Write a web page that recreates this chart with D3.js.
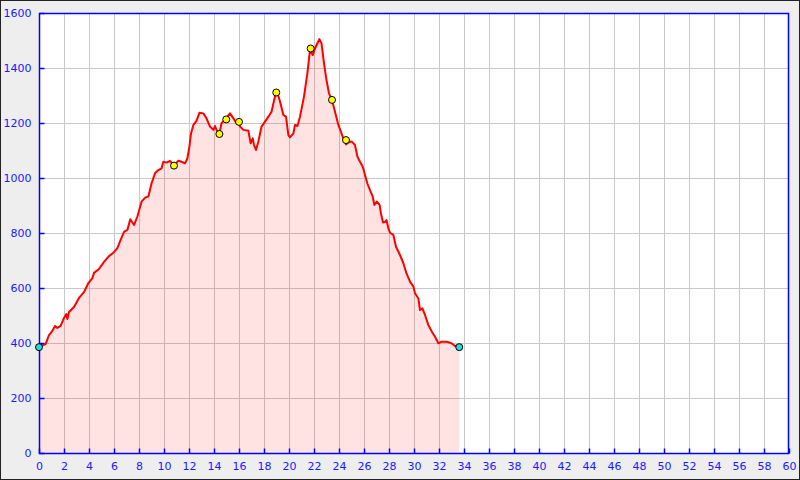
<!DOCTYPE html>
<html><head><meta charset="utf-8">
<script src="https://cdn.jsdelivr.net/npm/d3@7"></script>
<style>body{margin:0;background:#eeeeee}svg{display:block}</style>
</head><body><svg id="c" width="800" height="480"></svg>
<script>
const distKm = [0,0.13,0.53,0.8,1.07,1.28,1.47,1.73,2.0,2.19,2.27,2.4,2.8,3.2,3.6,3.95,4.27,4.4,4.8,5.2,5.6,5.92,6.27,6.53,6.8,7.07,7.3,7.6,7.87,8.2,8.48,8.75,9.0,9.28,9.55,9.8,9.95,10.2,10.48,10.7,10.85,11.15,11.4,11.68,11.87,12.03,12.16,12.35,12.6,12.83,13.15,13.4,13.68,13.95,14.08,14.2,14.43,14.6,14.88,15.28,15.55,15.8,16.0,16.08,16.35,16.75,16.93,17.1,17.2,17.36,17.55,17.8,18.08,18.35,18.6,18.88,19.07,19.28,19.55,19.76,19.95,20.08,20.35,20.48,20.67,20.88,21.2,21.47,21.68,21.9,22.08,22.27,22.43,22.6,22.8,23.0,23.2,23.44,23.68,23.95,24.2,24.4,24.56,24.75,25.0,25.28,25.47,25.68,25.9,26.08,26.27,26.48,26.7,26.83,27.03,27.25,27.35,27.52,27.7,27.8,27.95,28.08,28.35,28.56,28.88,29.15,29.4,29.68,29.95,30.08,30.35,30.48,30.67,30.88,31.15,31.43,31.68,31.95,32.23,32.6,33.0,33.28,33.62];
const elevM = [385,389,396,429,444,462,455,462,491,505,487,513,531,564,585,618,636,655,669,695,716,727,745,775,804,811,850,829,860,914,928,933,980,1017,1029,1035,1059,1056,1062,1051,1048,1063,1059,1053,1071,1114,1162,1193,1208,1237,1235,1217,1187,1175,1189,1175,1162,1199,1213,1235,1217,1199,1204,1187,1175,1172,1126,1144,1120,1102,1133,1187,1205,1223,1241,1296,1310,1278,1229,1223,1156,1148,1162,1193,1189,1223,1296,1381,1465,1447,1471,1490,1505,1490,1417,1356,1308,1284,1241,1193,1162,1138,1122,1129,1133,1120,1078,1059,1041,1011,980,956,932,902,914,902,872,838,841,847,817,801,793,750,720,690,653,623,605,581,562,520,526,502,465,441,423,399,405,405,399,389,384];
const waypointKm = [10.8,14.43,14.98,16.0,18.98,21.73,23.44,24.56];
const waypointElev = [1045,1160,1213,1204,1311,1471,1284,1138];
const endKm = [0,33.62];
const endElev = [385,385];
const xTicks = d3.range(0,61,2);
const yTicks = d3.range(0,1601,200);

const svg = d3.select('#c');
const L=39,R=789,T=13,B=453;
const x = d3.scaleLinear().domain([0,60]).range([L,R]);
const y = d3.scaleLinear().domain([0,1600]).range([B,T]);

svg.append('rect').attr('x',0.5).attr('y',0.5).attr('width',799).attr('height',479).attr('fill','#eeeeee').attr('stroke','#222');
svg.append('rect').attr('x',L).attr('y',T).attr('width',R-L).attr('height',B-T).attr('fill','#fff');

const g = svg.append('g');
g.selectAll('line.vg').data(xTicks.slice(1,-1)).join('line')
 .attr('x1',d=>Math.round(x(d))+0.5).attr('x2',d=>Math.round(x(d))+0.5).attr('y1',T).attr('y2',B)
 .attr('stroke','#c8c8c8').attr('stroke-width',1);
g.selectAll('line.hg').data(yTicks.slice(1,-1)).join('line')
 .attr('y1',d=>Math.round(y(d))+0.5).attr('y2',d=>Math.round(y(d))+0.5).attr('x1',L).attr('x2',R)
 .attr('stroke','#c8c8c8').attr('stroke-width',1);

const pts = distKm.map((d,i)=>[d,elevM[i]]);
svg.append('path').datum(pts)
 .attr('d',d3.area().x(d=>x(d[0])).y0(y(0)).y1(d=>y(d[1])))
 .attr('fill','rgba(255,0,0,0.11)');
svg.append('path').datum(pts)
 .attr('d',d3.line().x(d=>x(d[0])).y(d=>y(d[1])))
 .attr('fill','none').attr('stroke','#ff0000').attr('stroke-width',2).attr('stroke-linejoin','round');

// border
svg.append('rect').attr('x',L+0.5).attr('y',T+0.5).attr('width',R-L-1).attr('height',B-T)
 .attr('fill','none').attr('stroke','#0000ff').attr('stroke-width',1.5);

const xa = svg.append('g').attr('transform',`translate(0,${B+0.5})`)
 .call(d3.axisBottom(x).tickValues(xTicks).tickSize(-5).tickPadding(9).tickFormat(d3.format('d')));
const ya = svg.append('g').attr('transform',`translate(${L+0.5},0)`)
 .call(d3.axisLeft(y).tickValues(yTicks).tickSize(-5).tickPadding(8).tickFormat(d3.format('d')));
[xa,ya].forEach(a=>{
  a.select('.domain').remove();
  a.selectAll('line').attr('stroke','#0000ff').attr('stroke-width',1.5);
  a.selectAll('text').attr('fill','#1a1aff').style('font-family','DejaVu Sans').style('font-size','11px');
});

svg.selectAll('circle.wp').data(waypointKm.map((d,i)=>[d,waypointElev[i]])).join('circle')
 .attr('cx',d=>x(d[0])).attr('cy',d=>y(d[1])).attr('r',3.5)
 .attr('fill','#ffff00').attr('stroke','#000').attr('stroke-width',1);
svg.selectAll('circle.ep').data(endKm.map((d,i)=>[d,endElev[i]])).join('circle')
 .attr('cx',d=>x(d[0])).attr('cy',d=>y(d[1])).attr('r',3.5)
 .attr('fill','#22dddd').attr('stroke','#000').attr('stroke-width',1);
</script></body></html>
